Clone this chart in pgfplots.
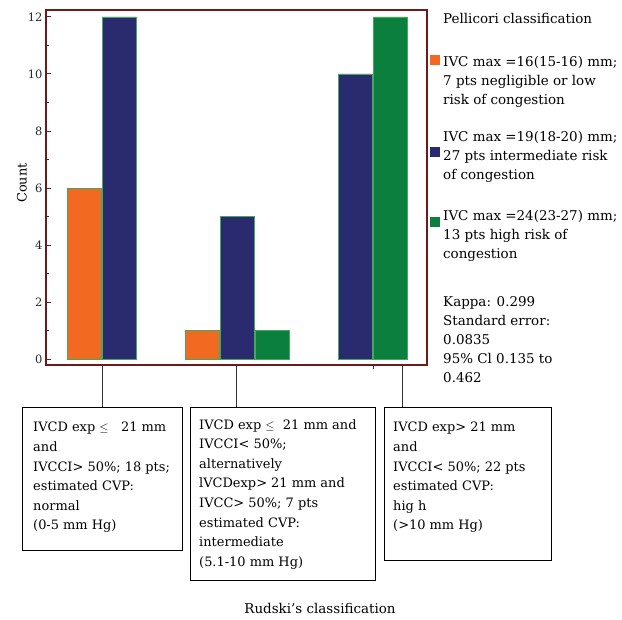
\documentclass[border=0pt]{standalone}
\usepackage{pgfplots}
\pgfplotsset{compat=1.18}
\usepackage{fontspec}
\setmainfont{DejaVu Serif}

\definecolor{barorange}{HTML}{F26A21}
\definecolor{barnavy}{HTML}{2A2A6E}
\definecolor{bargreen}{HTML}{0B7F3D}
\definecolor{baredge}{HTML}{45A85E}
\definecolor{spine}{HTML}{6E1A1A}

\newcommand{\boxfont}{\fontsize{13}{19.7}\selectfont}
\newcommand{\legfont}{\fontsize{13.5}{19.2}\selectfont}

\begin{document}
\begin{tikzpicture}[x=1bp,y=1bp]
\useasboundingbox (0,0) rectangle (622,620);

\begin{axis}[
    at={(46bp,255bp)}, anchor=south west,
    x=118bp, y=28.5bp,
    xmin=-0.619, xmax=2.610,
    ymin=-0.21, ymax=12.25,
    ybar=1bp, bar width=34bp,
    axis line style={draw=spine, line width=1.5bp},
    xtick=\empty,
    ytick={0,2,...,12},
    minor ytick={1,3,...,11},
    ytick pos=left,
    tick align=inside,
    major tick length=5bp,
    minor tick length=3bp,
    tick style={draw=spine, line width=1bp},
    yticklabel style={font=\fontsize{11.5}{13}\selectfont, text=black!85},
    /pgf/number format/assume math mode=true,
    clip=false,
]
% Pellicori: IVC max 16 mm (low risk)
\addplot[fill=barorange, draw=baredge, line width=0.8bp] coordinates {(0,6) (1,1)};
% IVC max 19 mm (intermediate risk)
\addplot[fill=barnavy, draw=baredge, line width=0.8bp] coordinates {(0,12) (1,5) (2,10)};
% IVC max 24 mm (high risk)
\addplot[fill=bargreen, draw=baredge, line width=0.8bp] coordinates {(1,1) (2,12)};
\end{axis}

% y label
\node[rotate=90, font=\fontsize{13}{15}\selectfont] at (22,437) {Count};

% ticks/connectors under the axis
\draw[black!80, line width=0.9bp] (102,255) -- (102,213);
\draw[black!80, line width=0.9bp] (236,255) -- (236,213);
\draw[black!80, line width=0.9bp] (402,255) -- (402,213);
\draw[black!80, line width=0.7bp] (373,255) -- (373,251);

% Rudski boxes
\draw[black, line width=0.9bp] (22,213) rectangle (182,70);
\draw[black, line width=0.9bp] (190,213) rectangle (375,40);
\draw[black, line width=0.9bp] (384,213) rectangle (551,60);

\node[anchor=north west, inner sep=0, align=left, font=\boxfont] at (33,198)
  {IVCD exp $\leq$\ \ \ 21 mm\\and\\IVCCI> 50\%; 18 pts;\\estimated CVP:\\normal\\(0-5 mm Hg)};
\node[anchor=north west, inner sep=0, align=left, font=\boxfont] at (199,201)
  {IVCD exp $\leq$\ \ 21 mm and\\IVCCI< 50\%;\\alternatively\\lVCDexp> 21 mm and\\IVCC> 50\%; 7 pts\\estimated CVP:\\intermediate\\(5.1-10 mm Hg)};
\node[anchor=north west, inner sep=0, align=left, font=\boxfont] at (393,198)
  {IVCD exp> 21 mm\\and\\IVCCI< 50\%; 22 pts\\estimated CVP:\\hig h\\(>10 mm Hg)};

\node[font=\fontsize{13.5}{16}\selectfont] at (320,12) {Rudski’s classification};

% legend
\node[anchor=north west, inner sep=0, font=\legfont] at (443,607) {Pellicori classification};
\fill[barorange] (430,565) rectangle (440,555);
\node[anchor=north west, inner sep=0, align=left, font=\legfont] at (443,564)
  {IVC max =16(15-16) mm;\\7 pts negligible or low\\risk of congestion};
\fill[barnavy] (430,473) rectangle (440,463);
\node[anchor=north west, inner sep=0, align=left, font=\legfont] at (443,489)
  {IVC max =19(18-20) mm;\\27 pts intermediate risk\\of congestion};
\fill[bargreen] (430,403) rectangle (440,393);
\node[anchor=north west, inner sep=0, align=left, font=\legfont] at (443,410)
  {IVC max =24(23-27) mm;\\13 pts high risk of\\congestion};
\node[anchor=north west, inner sep=0, align=left, font=\legfont] at (443,324)
  {Kappa: 0.299\\Standard error:\\0.0835\\95\% Cl 0.135 to\\0.462};
\end{tikzpicture}
\end{document}
